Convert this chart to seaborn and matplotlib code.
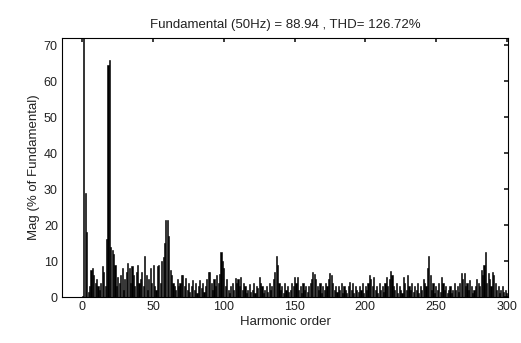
import numpy as np
import pandas as pd
import matplotlib
matplotlib.use("Agg")
import matplotlib.pyplot as plt
import seaborn as sns

# harmonic magnitudes (% of fundamental), orders 0..300
mag = [
    0.3, 100, 29, 18, 1.5, 3, 7.5, 8, 6, 4,
    5, 3, 2, 4, 8.5, 7, 3, 16, 64.5, 66,
    14, 13, 12, 9, 3, 5.5, 4, 6, 8, 2,
    5, 7, 9.5, 8, 4, 8.5, 6, 3, 7, 9,
    4, 5, 7, 3, 11.5, 6, 2, 5, 8, 4,
    9, 3, 2, 8.5, 9, 4, 10, 11, 15, 21.5,
    21.5, 17, 7.5, 6, 4, 3, 2, 5, 3, 4,
    6, 6.2, 3, 5.3, 2, 4, 1.5, 3, 4.8, 2,
    4, 1, 3, 4.8, 2.5, 4, 1.5, 3, 5, 7,
    7, 4, 2, 5, 3, 6, 4, 6.5, 12.5, 10,
    8, 3, 5, 2, 1, 3, 4, 2, 5.3, 4,
    5, 3, 5.5, 2, 4, 3, 1, 2, 3.5, 1.5,
    2, 4, 1, 3, 2.5, 5.6, 4, 3, 1, 2,
    3, 1.5, 4, 2, 3, 5, 7, 11.5, 9, 4,
    2, 3, 1, 4, 2, 3, 1.5, 2, 4, 3,
    5.6, 4, 5.5, 2, 3, 1, 4, 2, 3, 1.5,
    3, 4, 5, 7, 6.5, 5, 3, 2, 4, 1,
    3, 2, 4, 3, 5, 6.7, 6, 4, 2, 3,
    1.5, 3, 2, 4, 1, 3, 2, 1, 3, 4.3,
    2, 4, 1, 3, 2, 1.5, 3, 2, 4, 1,
    3, 2, 4, 6, 5, 3, 5.5, 2, 3, 1,
    4, 2, 3, 1.5, 4, 5.6, 3, 5, 7.2, 6,
    3, 2, 4, 1, 3, 2, 1, 5.6, 4, 2,
    6, 3, 2, 4, 1.5, 3, 2, 4, 1, 3,
    2, 5, 4, 3, 8, 11.5, 6, 2, 4, 1,
    3, 2, 4, 1.5, 5.6, 4, 2, 3, 1, 2,
    3, 1, 2, 4, 2, 3, 1.5, 4, 6.7, 5,
    6.7, 3, 4, 2, 4.8, 3, 1, 2, 3, 5,
    4, 3, 7.6, 6, 9, 12.5, 4, 6.7, 5, 3,
    7, 6, 4, 2, 3, 1, 2, 3, 1.5, 2,
    1,
]
orders = list(range(len(mag)))
xticks = [0, 50, 100, 150, 200, 250, 300]
yticks = [0, 10, 20, 30, 40, 50, 60, 70]
title = "Fundamental (50Hz) = 88.94 , THD= 126.72%"

df = pd.DataFrame({"order": orders, "mag": mag})

sns.set_theme(style="white")
plt.rcParams["font.family"] = ["Liberation Sans", "DejaVu Sans"]
plt.rcParams["font.size"] = 9
txt = "#222222"

fig = plt.figure(figsize=(5.21, 3.43), dpi=100)
ax = fig.add_axes([0.119, 0.134, 0.856, 0.755])
sns.barplot(data=df, x="order", y="mag", native_scale=True, color="black",
            saturation=1, errorbar=None, width=0.8, linewidth=0.4,
            edgecolor="black", ax=ax)

ax.set_xlim(-14.5, 301)
ax.set_ylim(0, 72)
ax.set_xticks(xticks)
ax.set_yticks(yticks)
ax.tick_params(direction="in", length=3, top=True, right=True, labelsize=9,
               colors=txt, pad=3)
for s in ax.spines.values():
    s.set_color("black")
    s.set_linewidth(0.8)
ax.set_xlabel("Harmonic order", fontsize=9.5, labelpad=2, color=txt)
ax.set_ylabel("Mag (% of Fundamental)", fontsize=9.5, labelpad=3, color=txt)
ax.set_title(title, fontsize=9.5, pad=7, color=txt)

fig.savefig("out.png", dpi=100)
